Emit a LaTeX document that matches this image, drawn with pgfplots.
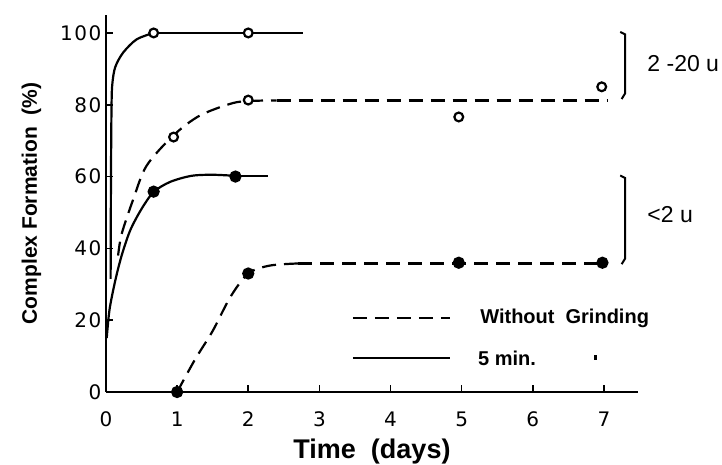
\documentclass[border=0pt]{standalone}
\usepackage{pgfplots}
\pgfplotsset{compat=1.18}
\usepackage{fontspec}
\setmainfont{Liberation Sans}
\newfontfamily\tickfont{DejaVu Sans}[LetterSpace=8]

\begin{document}
\begin{tikzpicture}
\useasboundingbox (-106pt,-73pt) rectangle (616pt,392pt);
\begin{axis}[
  scale only axis,
  width=532pt, height=377pt,
  xmin=0, xmax=7.48, ymin=0, ymax=105,
  axis x line=bottom, axis y line=left,
  axis line style={line width=2pt,-},
  xtick={0,1,...,7}, ytick={0,20,...,100},
  tick style={line width=1.6pt,black},
  major tick length=7pt,
  tick align=inside,
  /pgf/number format/assume math mode=true,
  ticklabel style={font=\tickfont\fontsize{20}{20}\selectfont},
  xticklabel style={yshift=-16pt},
  yticklabel style={xshift=-1pt},
  xlabel={\bfseries Time\ \ (days)},
  ylabel={\bfseries Complex Formation\ \ (\%)},
  xlabel style={font=\fontsize{27}{27}\selectfont, yshift=-5pt},
  ylabel style={font=\fontsize{21}{21}\selectfont, yshift=12pt},
  clip=false,
  cycle list={{black}},
  no markers,
  every axis plot/.append style={line width=2.2pt, black},
]
% 2-20 u, 5 min grinding (solid)
\addplot[smooth, tension=0.5] coordinates {
  (0.065,31.5) (0.07,60) (0.078,80) (0.09,86) (0.13,90.5) (0.24,94.5) (0.43,98.2) (0.67,100)
};
\addplot[solid] coordinates {(0.67,100) (2.77,100)};
% 2-20 u, without grinding (dashed)
\addplot[smooth, dash pattern=on 14pt off 8pt] coordinates {
  (0.17,38) (0.22,44) (0.38,53.5) (0.57,63) (0.95,71.5) (1.32,77) (1.79,80.5) (2.1,81.1) (2.4,81.2)
};
\addplot[dash pattern=on 14pt off 8pt] coordinates {(2.4,81.2) (7.05,81.2)};
% <2 u, 5 min grinding (solid)
\addplot[smooth] coordinates {
  (0.01,15) (0.05,23) (0.13,31) (0.22,38) (0.34,45) (0.5,51) (0.67,55.7) (0.9,58.5) (1.2,60.2) (1.5,60.5) (1.82,60.2)
};
\addplot[solid] coordinates {(1.82,60.2) (2.28,60.2)};
% <2 u, without grinding (dashed)
\addplot[smooth, dash pattern=on 14pt off 8pt] coordinates {
  (1,0) (1.25,9) (1.5,17) (1.75,26.5) (2,33) (2.3,35.2) (2.7,35.8)
};
\addplot[dash pattern=on 14pt off 8pt] coordinates {(2.7,35.8) (7,35.8)};
% data points
\addplot[only marks, mark=o, mark size=4.4pt, line width=2.2pt, mark options={fill=white, solid}] coordinates {
  (0.67,100) (2,100) (0.95,71) (2,81.3) (4.96,76.6) (6.97,85)
};
\addplot[only marks, mark=*, mark size=5pt, mark options={solid}] coordinates {
  (0.67,55.8) (1.82,60) (1,0) (2,33) (4.96,36) (6.98,36)
};
% legend
\addplot[dash pattern=on 14pt off 8pt] coordinates {(3.47,20.6) (4.84,20.6)};
\addplot[solid] coordinates {(3.47,9.5) (4.84,9.5)};
\node[anchor=west, inner sep=0pt, font=\bfseries\fontsize{20}{20}\selectfont] at (axis cs:5.26,20.4) {Without\ \ Grinding};
\node[anchor=west, inner sep=0pt, font=\bfseries\fontsize{20}{20}\selectfont] at (axis cs:5.23,9.3) {5 min.};
\fill (axis cs:6.86,8.9) rectangle (axis cs:6.91,10.2);
% brackets
\draw[line width=2pt] (axis cs:7.23,100.3) -- (axis cs:7.30,99.6) -- (axis cs:7.30,83.2) -- (axis cs:7.25,81.6);
\draw[line width=2pt] (axis cs:7.23,60.3) -- (axis cs:7.30,59.6) -- (axis cs:7.30,37.2) -- (axis cs:7.25,35.6);
\node[anchor=west, inner sep=0pt, font=\fontsize{23}{23}\selectfont] at (axis cs:7.61,91.6) {2 -20 u};
\node[anchor=west, inner sep=0pt, font=\fontsize{23}{23}\selectfont] at (axis cs:7.61,49.3) {<2 u};
\end{axis}
\end{tikzpicture}
\end{document}
